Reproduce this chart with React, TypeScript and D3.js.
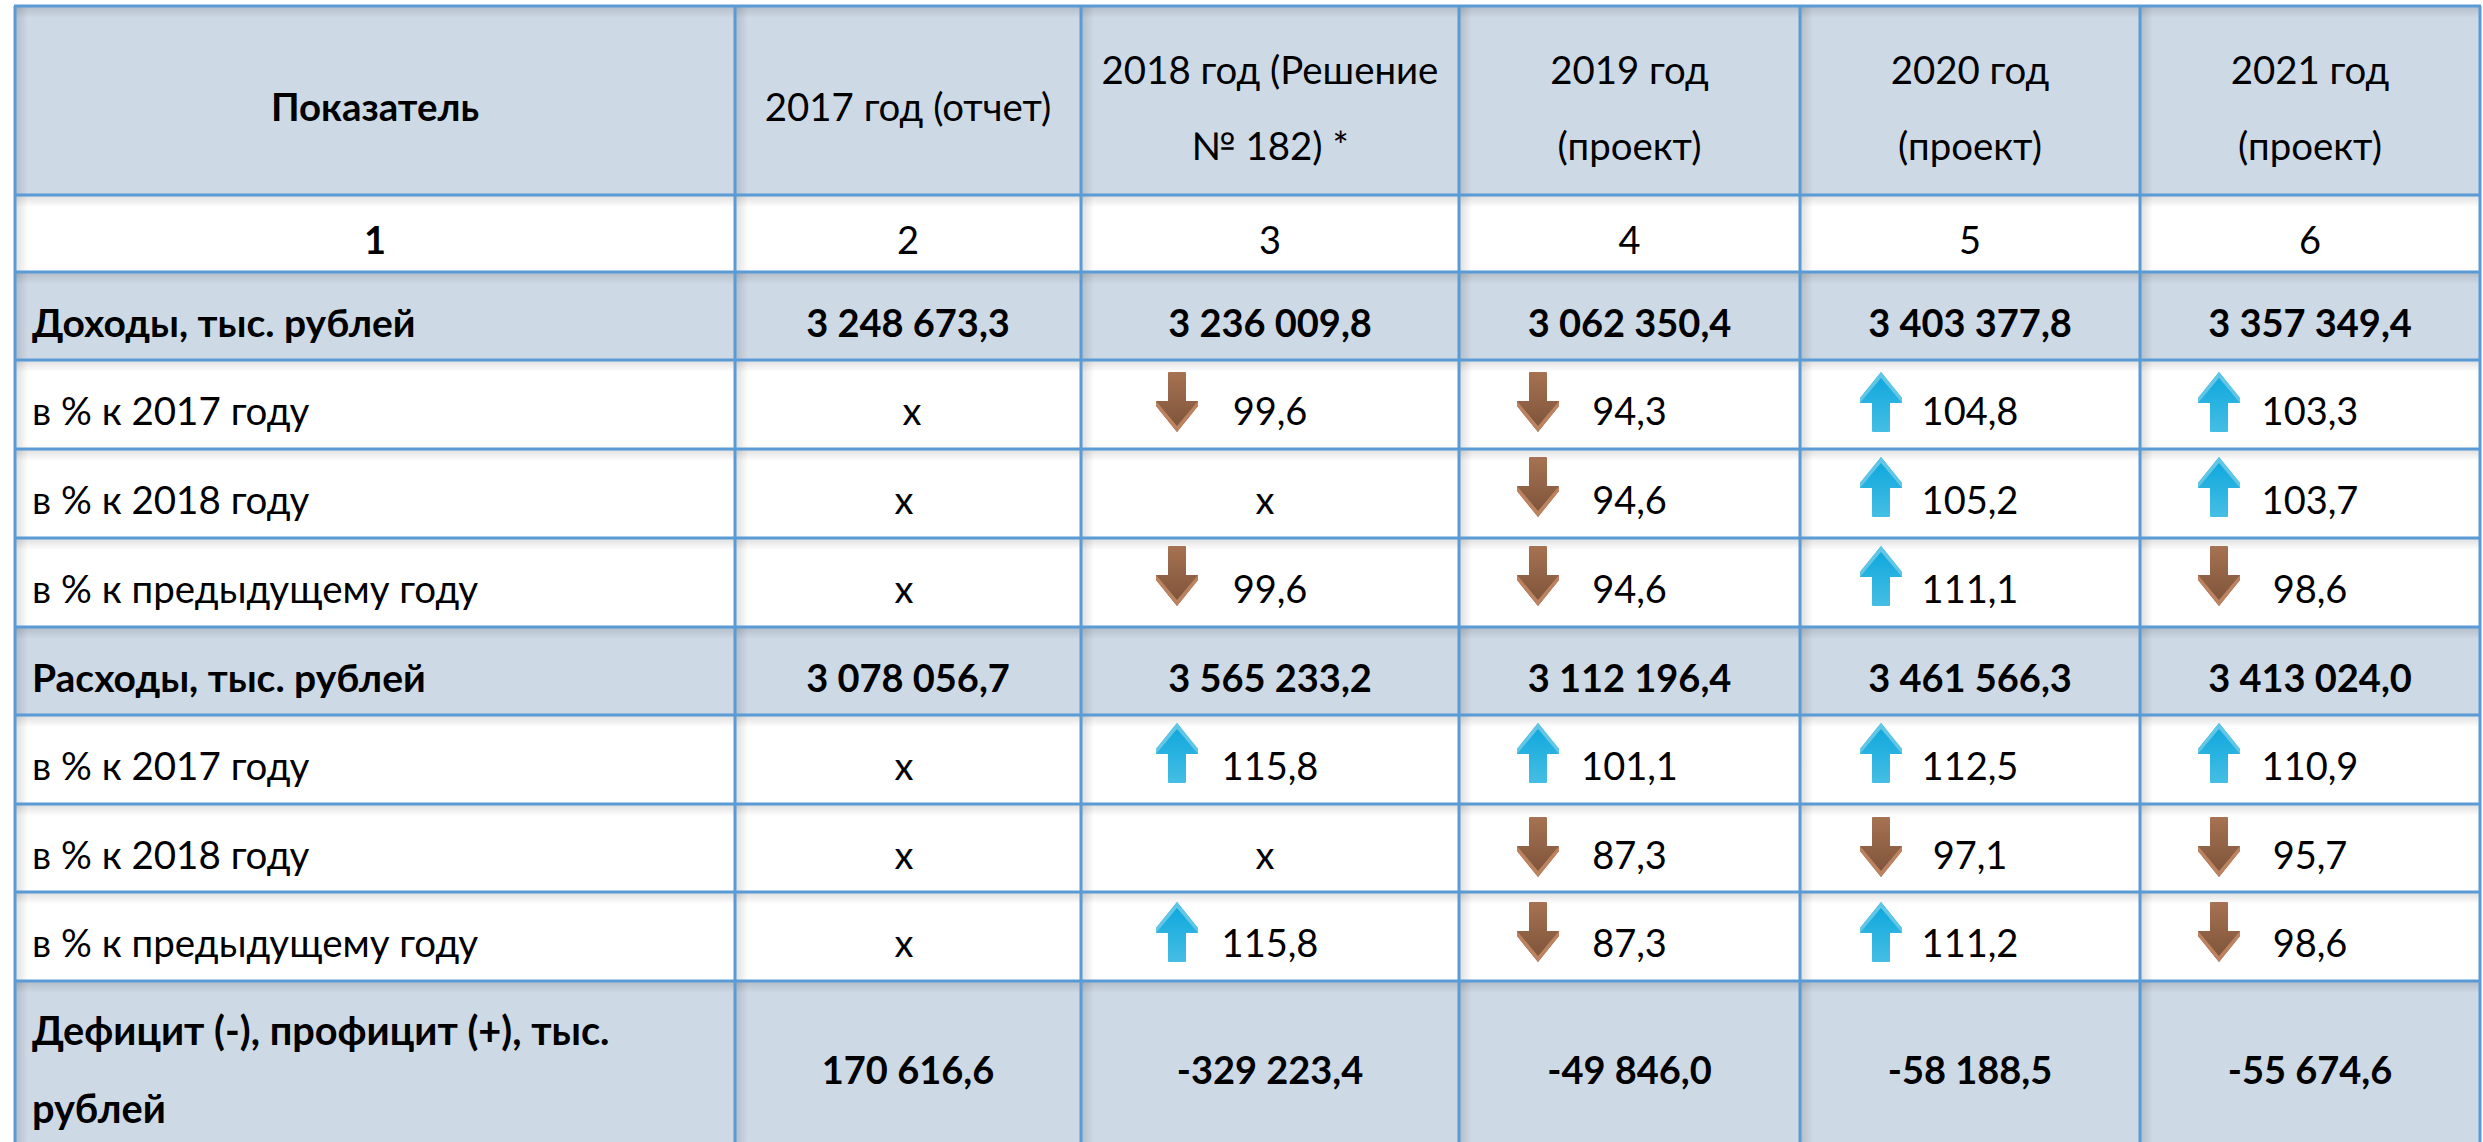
import * as d3 from "d3";

// table content
const headerTitle = "Показатель";
const years = [
  ["2017 год (отчет)"],
  ["2018 год (Решение", "№ 182) *"],
  ["2019 год", "(проект)"],
  ["2020 год", "(проект)"],
  ["2021 год", "(проект)"],
];
const columnNumbers = ["1", "2", "3", "4", "5", "6"];
const rowLabels = [
  "Доходы, тыс. рублей",
  "в % к 2017 году",
  "в % к 2018 году",
  "в % к предыдущему году",
  "Расходы, тыс. рублей",
  "в % к 2017 году",
  "в % к 2018 году",
  "в % к предыдущему году",
];
const boldRows = [0, 4];
const rowValues = [
  ["3 248 673,3", "3 236 009,8", "3 062 350,4", "3 403 377,8", "3 357 349,4"],
  ["х", "99,6", "94,3", "104,8", "103,3"],
  ["х", "х", "94,6", "105,2", "103,7"],
  ["х", "99,6", "94,6", "111,1", "98,6"],
  ["3 078 056,7", "3 565 233,2", "3 112 196,4", "3 461 566,3", "3 413 024,0"],
  ["х", "115,8", "101,1", "112,5", "110,9"],
  ["х", "х", "87,3", "97,1", "95,7"],
  ["х", "115,8", "87,3", "111,2", "98,6"],
];
const lastLabel = ["Дефицит (-), профицит (+), тыс.", "рублей"];
const lastValues = ["170 616,6", "-329 223,4", "-49 846,0", "-58 188,5", "-55 674,6"];

// layout
const colEdges = [15, 735, 1081, 1459, 1800, 2140, 2480];
const rowEdges = [6, 195, 272, 360, 449, 538, 627, 715, 804, 892, 981, 1142];
const bandRows = [0, 2, 6, 10];
const arrowX = [1177, 1538, 1881, 2219];
const arrowTop = [0, 12, 8, 8, 0, 8, 13, 10];
const FONT = "Lato, 'Open Sans', sans-serif";
const SIZE = 38;
const LABEL_SIZE = 38.5;
const BOLD_LABEL_SIZE = 39;
const LAST_LABEL_SIZE = 39.7;
const HEADER_SIZE = 38.4;

const colCenter = d3.scaleOrdinal<number, number>(
  d3.range(6),
  d3.pairs(colEdges).map(([a, b]) => (a + b) / 2)
);
const rowTop = d3.scaleOrdinal<number, number>(d3.range(11), rowEdges.slice(0, 11));

// the "х" placeholders sit a little off centre in the source table
function placeholderShift(r: number, c: number) {
  if (c === 0) return r === 1 ? 4 : -4;
  return -5;
}

function Arrow({ x, y, up }: { x: number; y: number; up: boolean }) {
  // drawn pointing down, 42 wide and 60 tall, then flipped for up
  const body = d3.path();
  body.moveTo(-9, 1);
  body.quadraticCurveTo(-9, 0, -8, 0);
  body.lineTo(8, 0);
  body.quadraticCurveTo(9, 0, 9, 1);
  body.lineTo(9, 29);
  body.lineTo(21, 29);
  body.lineTo(21, 34);
  body.lineTo(0, 60);
  body.lineTo(-21, 34);
  body.lineTo(-21, 29);
  body.lineTo(-9, 29);
  body.closePath();

  const edge = d3.path();
  edge.moveTo(-21, 29);
  edge.lineTo(0, 54);
  edge.lineTo(21, 29);
  edge.lineTo(21, 34);
  edge.lineTo(0, 60);
  edge.lineTo(-21, 34);
  edge.closePath();

  return (
    <g transform={`translate(${x},${y})`}>
      <g transform={up ? "translate(0,60) scale(1,-1)" : undefined}>
        <path d={body.toString()} fill={up ? "url(#upFill)" : "url(#downFill)"} />
        <path d={edge.toString()} fill={up ? "#62c6e6" : "#bd8360"} />
      </g>
    </g>
  );
}

export default function App() {
  const width = 2483;
  const height = 1142;
  const tableWidth = colEdges[6] - colEdges[0];
  const gridRows = rowEdges.slice(0, 11);

  return (
    <svg
      width={width}
      height={height}
      viewBox={`0 0 ${width} ${height}`}
      style={{ position: "absolute", left: 0, top: 0, background: "#fff" }}
      fontFamily={FONT}
      fontSize={SIZE}
      fill="#000"
    >
      <defs>
        <linearGradient id="shadeV" x1="0" y1="0" x2="0" y2="1">
          <stop offset="0" stopColor="#000" stopOpacity={0.13} />
          <stop offset="1" stopColor="#000" stopOpacity={0} />
        </linearGradient>
        <linearGradient id="shadeH" x1="0" y1="0" x2="1" y2="0">
          <stop offset="0" stopColor="#000" stopOpacity={0.13} />
          <stop offset="1" stopColor="#000" stopOpacity={0} />
        </linearGradient>
        <linearGradient id="downFill" x1="0" y1="0" x2="0" y2="1">
          <stop offset="0" stopColor="#a67252" />
          <stop offset="1" stopColor="#7b5239" />
        </linearGradient>
        <linearGradient id="upFill" x1="0" y1="1" x2="0" y2="0">
          <stop offset="0" stopColor="#0ba6dc" />
          <stop offset="1" stopColor="#45bee4" />
        </linearGradient>
      </defs>

      {/* band fills */}
      {bandRows.map((r) => (
        <rect
          key={r}
          x={colEdges[0]}
          y={rowEdges[r]}
          width={tableWidth}
          height={rowEdges[r + 1] - rowEdges[r]}
          fill="#cdd9e5"
        />
      ))}

      {/* inner shadows under the grid lines */}
      {gridRows.map((y) => (
        <rect key={y} x={colEdges[0]} y={y} width={tableWidth} height={12} fill="url(#shadeV)" />
      ))}
      {colEdges.slice(0, 6).map((x) => (
        <rect key={x} x={x} y={rowEdges[0]} width={13} height={height - rowEdges[0]} fill="url(#shadeH)" />
      ))}

      {/* grid */}
      {gridRows.map((y) => (
        <line key={y} x1={colEdges[0] - 1} x2={colEdges[6] + 1} y1={y} y2={y} stroke="#5b9bd5" strokeWidth={3} />
      ))}
      {colEdges.map((x) => (
        <line key={x} x1={x} x2={x} y1={rowEdges[0]} y2={height} stroke="#5b9bd5" strokeWidth={3} />
      ))}

      {/* header */}
      <text x={colCenter(0)} y={121} textAnchor="middle" fontWeight={700} fontSize={HEADER_SIZE}>
        {headerTitle}
      </text>
      {years.map((lines, i) =>
        lines.map((line, j) => (
          <text
            key={line}
            x={colCenter(i + 1)}
            y={lines.length === 1 ? 121 : j === 0 ? 84 : 160}
            textAnchor="middle"
            fontSize={HEADER_SIZE}
          >
            {line}
          </text>
        ))
      )}
      {columnNumbers.map((n, i) => (
        <text key={n} x={colCenter(i)} y={254} textAnchor="middle" fontWeight={i === 0 ? 700 : 400}>
          {n}
        </text>
      ))}

      {/* body */}
      {rowLabels.map((label, r) => {
        const top = rowTop(r + 2);
        const bold = boldRows.includes(r);
        return (
          <g key={r}>
            <text
              x={32}
              y={top + 65}
              fontWeight={bold ? 700 : 400}
              fontSize={bold ? BOLD_LABEL_SIZE : LABEL_SIZE}
            >
              {label}
            </text>
            {rowValues[r].map((v, c) => {
              const blank = v === "х";
              const pct = +v.replace(",", ".");
              return (
                <g key={c}>
                  <text
                    x={colCenter(c + 1) + (blank ? placeholderShift(r, c) : 0)}
                    y={top + 65}
                    textAnchor="middle"
                    fontWeight={bold ? 700 : 400}
                  >
                    {v}
                  </text>
                  {!bold && !blank && (
                    <Arrow x={arrowX[c - 1]} y={top + arrowTop[r]} up={pct > 100} />
                  )}
                </g>
              );
            })}
          </g>
        );
      })}

      {/* last row */}
      {lastLabel.map((line, i) => (
        <text key={line} x={32} y={i === 0 ? 1045 : 1123} fontWeight={700} fontSize={LAST_LABEL_SIZE}>
          {line}
        </text>
      ))}
      {lastValues.map((v, c) => (
        <text key={v} x={colCenter(c + 1)} y={1084} textAnchor="middle" fontWeight={700}>
          {v}
        </text>
      ))}
    </svg>
  );
}
